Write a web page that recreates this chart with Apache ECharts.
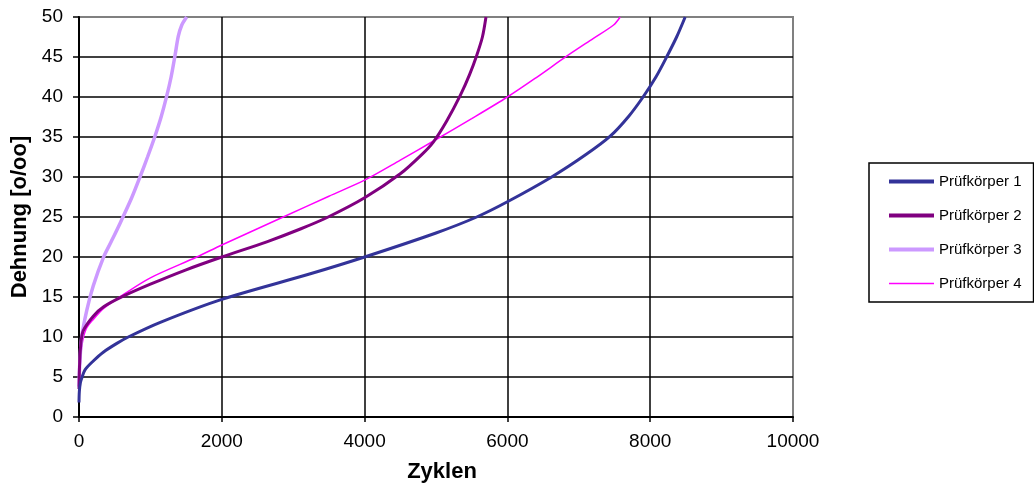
<!DOCTYPE html>
<html>
<head>
<meta charset="utf-8">
<title>Dehnung über Zyklen</title>
<script src="https://cdn.jsdelivr.net/npm/echarts@6/dist/echarts.min.js"></script>
<style>
  html, body { margin: 0; padding: 0; background: #fff; }
  #chart { width: 1034px; height: 488px; }
</style>
</head>
<body>
<div id="chart"></div>
<script>
// Axis ticks
const xTicks = [0, 2000, 4000, 6000, 8000, 10000];
const yTicks = [0, 5, 10, 15, 20, 25, 30, 35, 40, 45, 50];

// Series names
const names = ['Prüfkörper 1', 'Prüfkörper 2', 'Prüfkörper 3', 'Prüfkörper 4'];

// Prüfkörper 1: Zyklen / Dehnung
const p1Cycles = [0, 5, 20, 40, 84, 200, 340, 530, 690, 1130, 2000, 3240, 4000, 5000, 5570, 6000, 6620, 7100, 7440, 7700, 7900, 8080, 8230, 8370, 8490];
const p1Strain = [1.8, 3.2, 4.3, 4.9, 5.9, 7.0, 8.1, 9.2, 10.0, 11.8, 14.7, 17.9, 20.0, 23.0, 25.0, 26.9, 30.0, 32.8, 35.1, 37.6, 40.0, 42.5, 45.0, 47.5, 50.0];

// Prüfkörper 2
const p2Cycles = [0, 10, 30, 60, 200, 350, 620, 1000, 1500, 2000, 2630, 3100, 3490, 4000, 4500, 4800, 4965, 5150, 5340, 5470, 5570, 5650, 5700];
const p2Strain = [3.5, 7.0, 9.5, 10.8, 12.6, 13.8, 15.1, 16.6, 18.4, 20.0, 21.9, 23.5, 25.0, 27.4, 30.4, 32.8, 34.4, 37.0, 40.2, 42.8, 45.2, 47.5, 50.0];

// Prüfkörper 3
const p3Cycles = [0, 10, 38, 108, 200, 340, 450, 574, 738, 854, 960, 1064, 1150, 1228, 1290, 1345, 1391, 1440, 1508];
const p3Strain = [3.8, 6.5, 10.0, 13.3, 16.4, 19.9, 21.9, 24.2, 27.4, 30.0, 32.5, 35.1, 37.5, 40.1, 42.5, 45.2, 47.6, 49.0, 50.0];

// Prüfkörper 4
const p4Cycles = [0, 15, 40, 100, 200, 350, 620, 1000, 1650, 2000, 2860, 3500, 4000, 4500, 4965, 5500, 6000, 6400, 6830, 7200, 7487, 7580];
const p4Strain = [3.2, 6.0, 8.9, 11.0, 12.2, 13.6, 15.3, 17.4, 20.0, 21.5, 25.0, 27.6, 29.6, 32.1, 34.5, 37.3, 40.0, 42.4, 45.1, 47.3, 49.0, 50.0];

const colors = ['#333399', '#800080', '#CC99FF', '#FF00FF'];
const widths = [3, 3, 3.5, 1.5];
const legendWidths = [4, 4, 4, 1.5];

function pairs(xs, ys) {
  return xs.map((x, i) => [x, ys[i]]);
}

const seriesData = [
  pairs(p1Cycles, p1Strain),
  pairs(p2Cycles, p2Strain),
  pairs(p3Cycles, p3Strain),
  pairs(p4Cycles, p4Strain)
];

const chart = echarts.init(document.getElementById('chart'), null, { renderer: 'canvas' });
const font = '"Liberation Sans", Arial, sans-serif';

chart.setOption({
  animation: false,
  backgroundColor: '#ffffff',
  textStyle: { fontFamily: font },
  grid: {
    left: 79, top: 17, right: 241, bottom: 67,
    show: true, borderColor: '#808080', borderWidth: 2, backgroundColor: 'transparent'
  },
  legend: {
    orient: 'vertical',
    left: 869, top: 163,
    padding: [11, 12, 11, 18],
    itemWidth: 45, itemHeight: 14, itemGap: 19,
    borderColor: '#000', borderWidth: 1.5,
    itemStyle: { opacity: 0, borderWidth: 0 },
    textStyle: { fontFamily: font, fontSize: 15, color: '#000' },
    data: names.map((n, i) => ({
      name: n,
      lineStyle: { color: colors[i], width: legendWidths[i] }
    }))
  },
  xAxis: {
    type: 'value', min: xTicks[0], max: xTicks[xTicks.length - 1], interval: 2000,
    name: 'Zyklen', nameLocation: 'middle', nameGap: 44,
    nameTextStyle: { fontFamily: font, fontSize: 22, fontWeight: 'bold', color: '#000', padding: [0, 0, 0, 12] },
    axisLine: { show: true, onZero: false, lineStyle: { color: '#000', width: 2 } },
    axisTick: { show: true, length: 5, lineStyle: { color: '#000', width: 1.5 } },
    axisLabel: { fontFamily: font, fontSize: 19, color: '#000', margin: 15, formatter: v => String(v) },
    splitLine: { show: true, showMinLine: false, showMaxLine: false, lineStyle: { color: '#000', width: 1.5 } }
  },
  yAxis: {
    type: 'value', min: yTicks[0], max: yTicks[yTicks.length - 1], interval: 5,
    name: 'Dehnung [o/oo]', nameLocation: 'middle', nameGap: 46, nameRotate: 90,
    nameTextStyle: { fontFamily: font, fontSize: 22, fontWeight: 'bold', color: '#000' },
    axisLine: { show: true, onZero: false, lineStyle: { color: '#000', width: 2 } },
    axisTick: { show: true, length: 6, lineStyle: { color: '#000', width: 1.5 } },
    axisLabel: { fontFamily: font, fontSize: 19, color: '#000', margin: 16, formatter: v => String(v) },
    splitLine: { show: true, showMinLine: false, showMaxLine: false, lineStyle: { color: '#000', width: 1.5 } }
  },
  series: names.map((n, i) => ({
    name: n,
    type: 'line',
    data: seriesData[i],
    showSymbol: false,
    symbol: 'none',
    smooth: 0.3,
    color: colors[i],
    itemStyle: { color: colors[i] },
    lineStyle: { color: colors[i], width: widths[i] },
    z: 3 + (3 - i)
  }))
});
</script>
</body>
</html>
